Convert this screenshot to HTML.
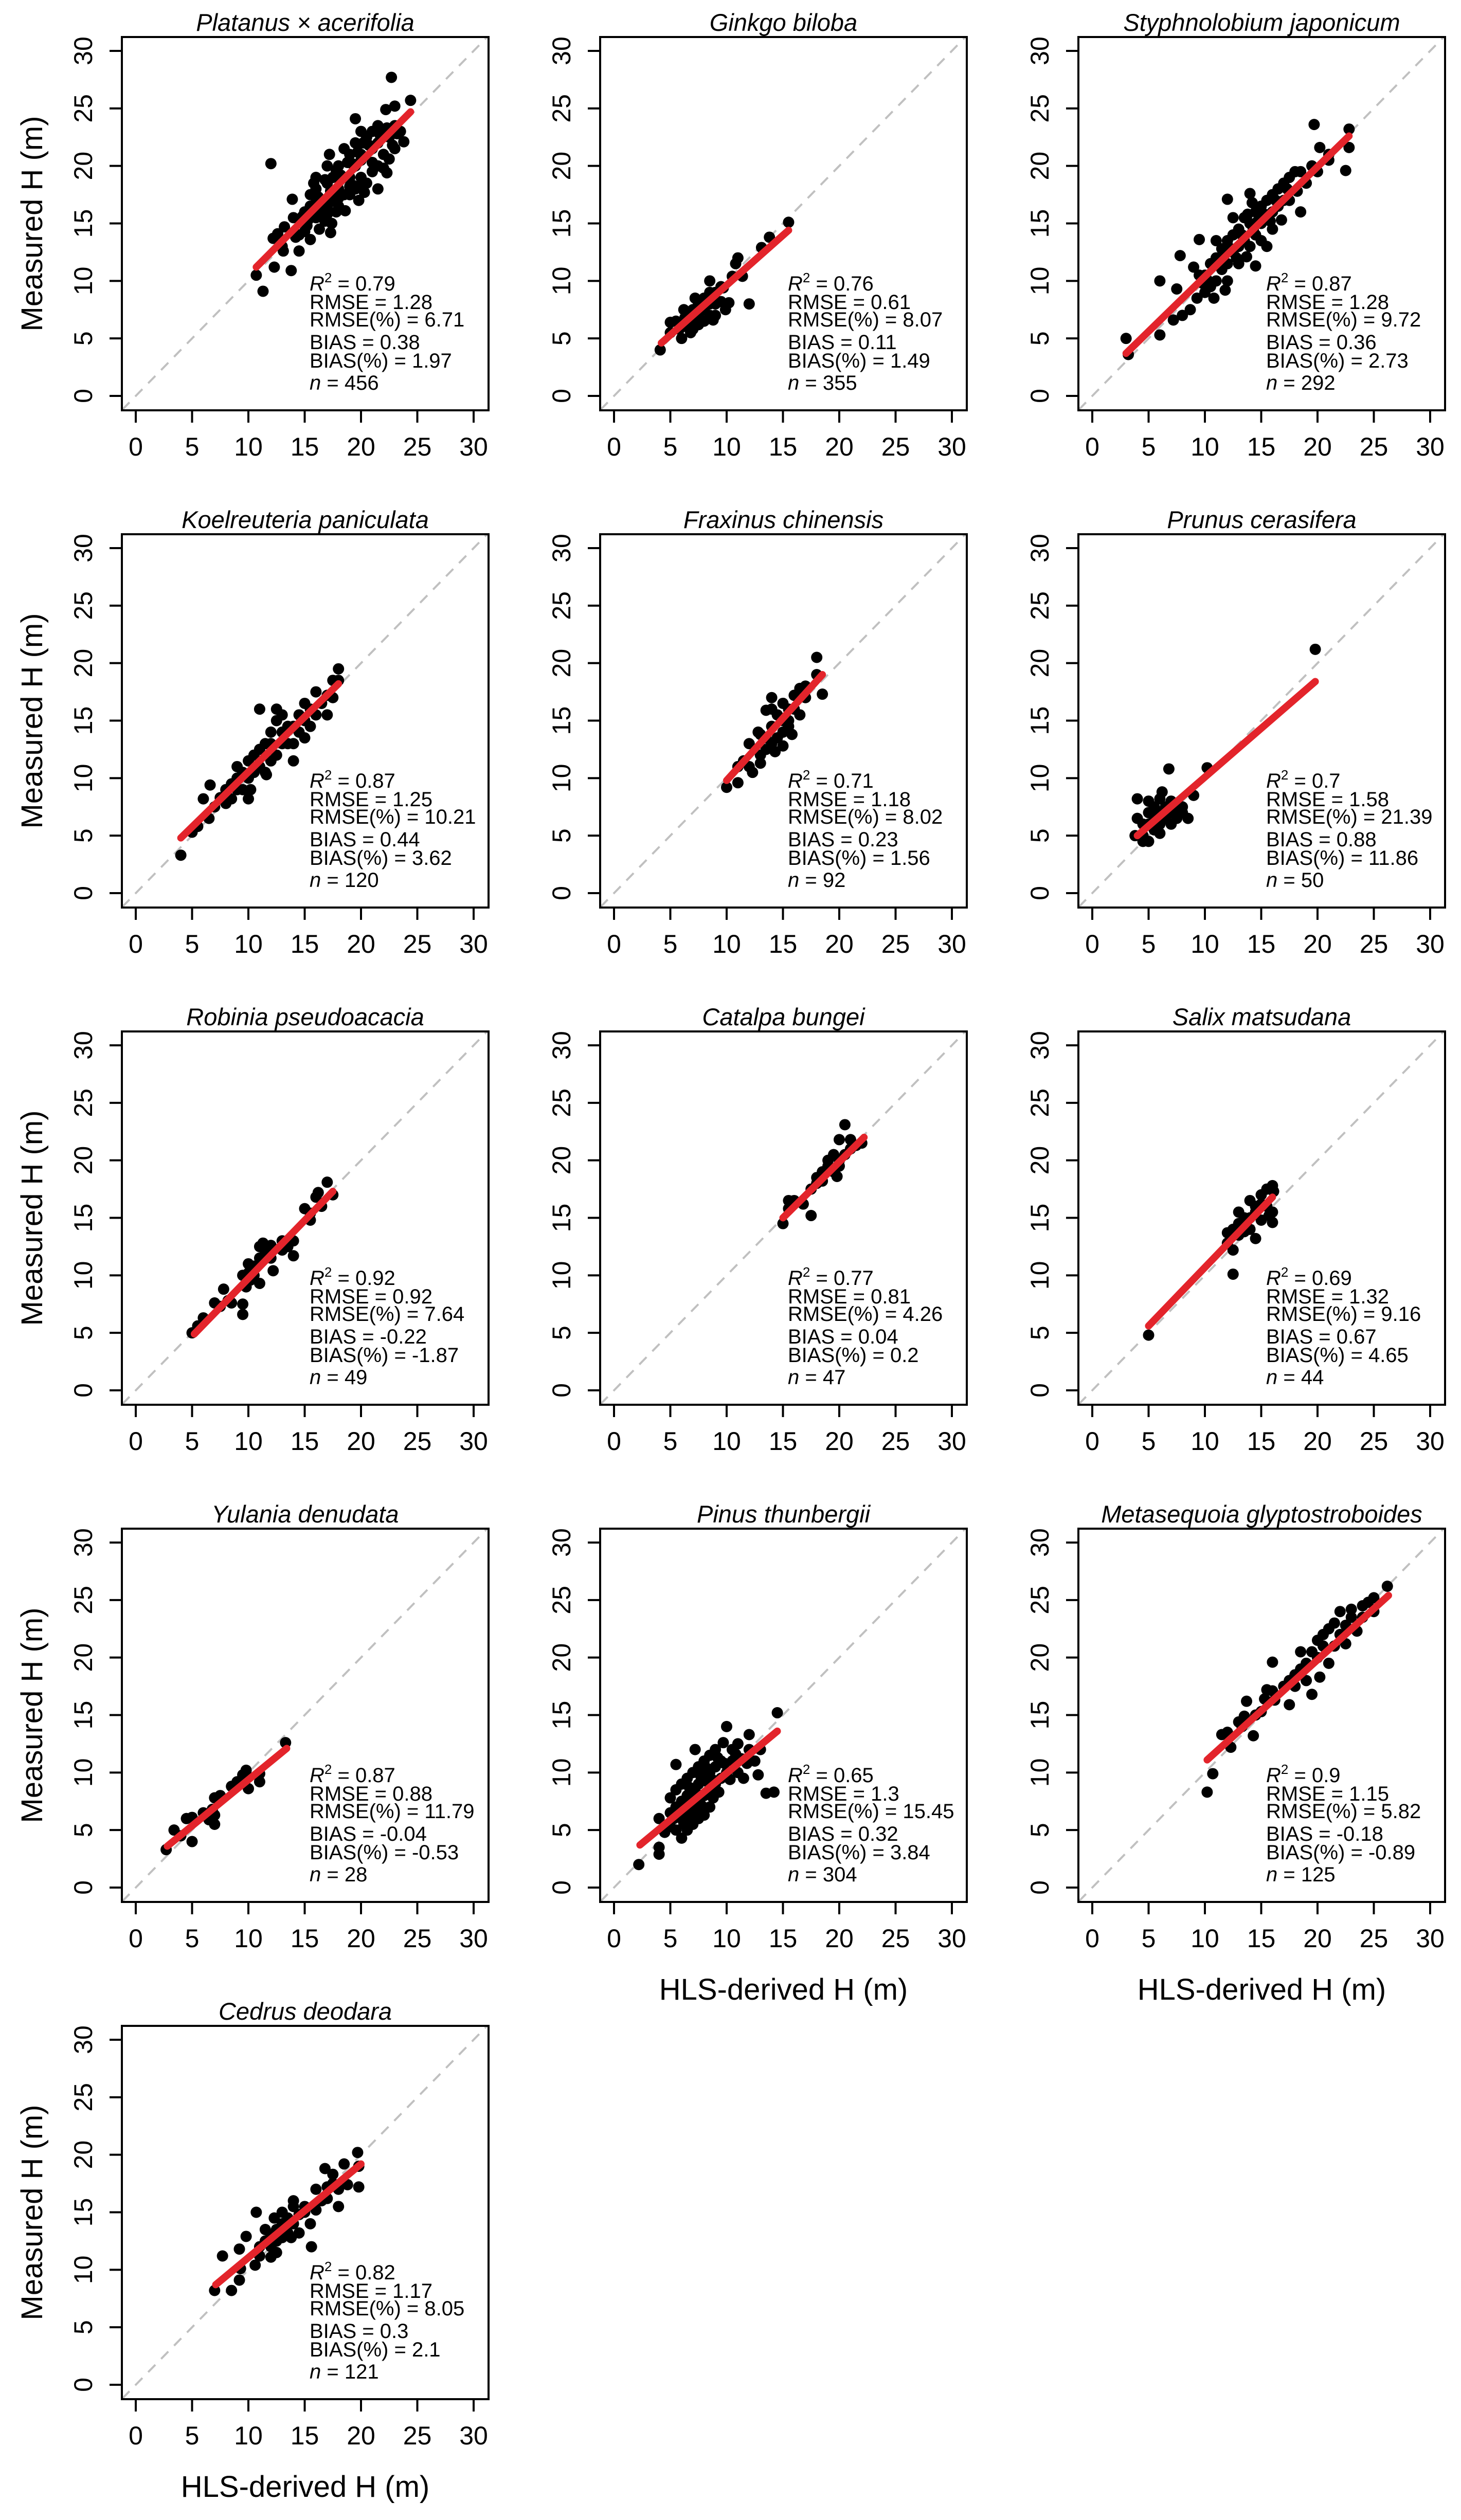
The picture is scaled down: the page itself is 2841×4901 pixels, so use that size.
<!DOCTYPE html>
<html><head><meta charset="utf-8"><style>
html,body{margin:0;padding:0;background:#fff}
svg{display:block;font-family:"Liberation Sans",Arial,sans-serif}
</style></head><body>
<svg id="fig" xmlns="http://www.w3.org/2000/svg" width="2841" height="4901" viewBox="0 0 2841 4901"></svg>
<script>
const species=["Platanus \u00d7 acerifolia","Ginkgo biloba","Styphnolobium japonicum","Koelreuteria paniculata","Fraxinus chinensis","Prunus cerasifera","Robinia pseudoacacia","Catalpa bungei","Salix matsudana","Yulania denudata","Pinus thunbergii","Metasequoia glyptostroboides","Cedrus deodara"];
const r2=["0.79","0.76","0.87","0.87","0.71","0.7","0.92","0.77","0.69","0.87","0.65","0.9","0.82"];
const rmse=["1.28","0.61","1.28","1.25","1.18","1.58","0.92","0.81","1.32","0.88","1.3","1.15","1.17"];
const rmsePct=["6.71","8.07","9.72","10.21","8.02","21.39","7.64","4.26","9.16","11.79","15.45","5.82","8.05"];
const bias=["0.38","0.11","0.36","0.44","0.23","0.88","-0.22","0.04","0.67","-0.04","0.32","-0.18","0.3"];
const biasPct=["1.97","1.49","2.73","3.62","1.56","11.86","-1.87","0.2","4.65","-0.53","3.84","-0.89","2.1"];
const nObs=["456","355","292","120","92","50","49","47","44","28","304","125","121"];
const fitLines=[[10.7,11.2,24.4,24.7],[4.2,4.6,15.5,14.4],[3,3.7,22.8,22.6],[4,4.8,18,18.2],[10,9.8,18.5,19],[4,5,19.8,18.4],[5.2,4.9,17.5,17.3],[15,15,22.2,22],[5,5.6,16,16.8],[2.8,3.6,13.4,12.1],[2.3,3.7,14.5,13.6],[10.2,11.1,26.3,25.4],[7.1,8.7,20,19.2]];
const ticks=[0,5,10,15,20,25,30];
const pts1=[[12,20.2],[10.7,10.5],[11.3,9.1],[12.3,11.2],[13.8,10.9],[12.2,13.7],[12.6,14.1],[13.1,12.6],[13,13],[14.5,12.6],[13.9,17.1],[22.7,27.7],[23,25.2],[24.4,25.7],[19.5,24.1],[22.2,24.9],[21.5,23.5],[23.8,22.1],[22.3,19.4],[22.5,20.6],[17.4,15],[17.3,14.2],[18.6,16.1],[17.2,21],[15.5,13.6],[14,15.5],[13.2,14.7],[15,14.3],[15,16],[15.5,17.5],[16,15.5],[16,18],[16.5,17],[16.5,16],[17,18.5],[17,16.5],[17.5,19],[17.5,17],[18,18],[18,20],[18,16.5],[18.5,19],[18.5,17.5],[19,21],[19,19],[19,17.5],[19.5,20],[19.5,22],[19.5,18],[20,21],[20,19],[20,20.5],[20.5,22.5],[20.5,18.5],[21,21.5],[21,19.5],[21,23],[21.5,22],[21.5,20],[22,23],[22,21],[22.5,22.5],[23,23.5],[23,21.5],[23.5,23],[16,19],[15.8,18.5],[17,20],[18.5,21.5],[20,23],[16.8,15.2],[17.8,16],[19.8,17],[21.5,18],[22.8,21.8],[20.3,17.7],[19.3,18.3],[14.8,15.6],[15.2,14.8],[16.3,14.5],[15.5,16.5],[16.2,17.3],[17.3,17.8],[18.2,19.2],[18.8,20.3],[19.7,21.2],[20.7,21.8],[21.7,22.7],[22.3,23.3],[16.8,18.8],[17.8,19.6],[19.2,20.2],[20.2,22],[14.5,14],[16,16.8],[17,15.8],[18,17.2],[19,18.2],[20,18.4],[21,20.3],[22,19.8],[23.2,22.8],[14.2,13.8],[15.3,15.3]];
const pts2=[[4.1,4],[15.5,15.1],[13.8,13.8],[13.1,12.9],[11,12],[10.8,11.5],[11.4,10.4],[12,8],[10.2,8.1],[9.9,7.5],[9.7,9.4],[10.5,10.4],[6,5],[5,5.5],[5,6.4],[5.5,6.5],[6,6],[6.5,7],[6.5,6],[7,7.5],[7,6.5],[7,5.8],[7.5,8],[7.5,7],[7.5,6.2],[8,8.5],[8,7.5],[8,6.5],[8.5,9],[8.5,8],[8.5,7],[8.5,10],[9,9],[9,8],[9,7],[9.5,9.5],[9.5,8.2],[6.2,7.5],[7.2,8.5],[8.8,6.6],[6.8,5.5],[6.3,6.8],[7.3,7.3],[8.2,8.2],[5.8,5.8]];
const pts3=[[3,5],[3.2,3.6],[6,5.3],[6,10],[7.8,12.2],[7.5,9.3],[9.5,13.6],[9,11.2],[12,17.1],[14,17.6],[18,19.5],[19.7,23.6],[22.8,23.2],[20.2,21.6],[22.8,21.6],[22.5,19.6],[21,20.5],[18.5,16],[16,14.5],[15.5,13],[14.5,11.3],[7.2,6.6],[8,7],[8.7,7.5],[9.3,8.5],[10,9],[10,10.5],[10.5,11.5],[10.5,9.5],[11,12],[11,10],[11.5,12.8],[11.5,11],[12,13.5],[12,11.5],[12,10],[12.5,14],[12.5,12.5],[13,14.5],[13,13],[13,11.5],[13.5,15.5],[13.5,13.5],[14,15],[14,13],[14.5,16],[14.5,14],[15,16.5],[15,15],[15,13.5],[15.5,17],[16,17.5],[16,16],[16.5,18],[16.5,16.5],[17,18.5],[17,17],[17.5,19],[17.5,17],[18.2,17.8],[18.5,19.5],[19,18.5],[19.5,20],[20,19.5],[21,21],[11,13.5],[12.5,15.5],[9.5,10.5],[10.8,8.5],[13.7,12.1],[16.8,15.3],[14.2,16.8],[11.8,9.2],[10.3,10],[11.3,11.5],[12.3,12.8],[13.3,14],[14.3,14.5],[15.3,15.8],[16.3,17],[17.3,18],[9.8,9.8],[12.8,12],[13.8,15.8],[15.8,15.2],[11.6,12.3],[14.7,15.2]];
const pts4=[[4,3.3],[5,5.3],[5.5,5.8],[6,8.2],[6.6,9.4],[6.5,6.5],[7,7.5],[7.5,8.3],[8,7.8],[8,9],[8.5,8.2],[8.5,9.5],[9,9],[9,10],[9,11],[9.5,10.5],[9.5,9],[10,8.2],[10,11.5],[10,10],[10.5,12],[10.5,10.5],[11,12.5],[11,11],[11,16],[11.5,13],[11.5,10.5],[12,14],[12,13],[12,11.5],[12.5,15],[12.5,16],[12.5,12],[13,14],[13,13],[13,15.5],[13.5,14.5],[13.5,13],[14,11.5],[14,14.5],[14,13],[14.5,15.5],[14.5,14],[15,16.5],[15,15],[15,13.5],[15.5,16],[15.5,14.5],[16,17.5],[16,15.5],[16.5,16.5],[17,17.2],[17,15.5],[17.5,18.5],[17.5,17],[18,19.5],[18,18.5],[10.2,9],[11.6,10.3]];
const pts5=[[10,9.2],[11,11],[11,9.6],[11.5,11.5],[12,13],[12,11],[12.3,10.5],[13,12],[12.8,14],[13,11.3],[13,13.8],[13.5,13.5],[13.5,12.5],[13.5,15.9],[14,14.5],[14,16],[14,17],[14,13],[14.5,15.5],[14.5,13.5],[15,16.5],[15,15],[15,14],[15,12.8],[15.5,15],[15.5,16],[15.5,14.5],[16,16],[16,17.2],[16.5,17.8],[16.5,15.5],[17,18],[17,17],[18,20.5],[18,19],[18.5,17.3],[14.3,12.3],[15.8,13.8]];
const pts6=[[3.8,5],[4,8.2],[4,6.5],[4.5,6],[4.5,5],[5,4.5],[5,6],[5,7],[5,8],[5.5,5.5],[5.5,7.5],[5.5,6.5],[6,8.2],[6,7],[6,6],[6,5.2],[6.5,7.5],[6.5,6.5],[6.8,10.8],[7,7],[7,8],[7,6],[7.5,7.2],[7.5,6.5],[8,7.5],[8,7],[8.5,6.5],[9,8.5],[10.2,10.9],[19.8,21.2],[4.5,4.5],[6.2,8.8]];
const pts7=[[5,5],[5.5,5.6],[6,6.3],[7,7.6],[7.5,7.3],[7.8,8.8],[8.2,7.8],[8.5,7.6],[9.5,7.5],[9.5,6.6],[9.8,9],[9.5,10],[10,11],[10,10.2],[10.5,10],[10.5,10.8],[11,9.3],[11,11.5],[11,12.5],[11.5,12],[12,11.5],[12,12.6],[12.2,10.4],[13,12.2],[13,13],[13.5,12.5],[14,13],[14,11.7],[15,15.8],[15.5,14.8],[15.5,15.4],[16,16.8],[16.5,16],[17,18.1],[17.5,17],[16.2,17.2],[11.3,12.8],[10.2,9.6]];
const pts8=[[15,14.5],[15.5,15.8],[15.5,16.5],[16,16.5],[16.8,16.2],[17.5,15.2],[17.5,17.5],[18,18],[18,18.5],[18.5,19],[18.5,18.2],[19,19.5],[19,20],[19.5,20.5],[19.5,19],[20,20],[20,21.8],[20,19.5],[20.5,23.1],[20.5,20.5],[21,21],[21,21.8],[21.5,21.3],[22,21.5],[19.8,18.6]];
const pts9=[[5,4.8],[12.5,10.1],[12,13.7],[12,12.8],[12.5,14],[12.5,12.2],[13,15.5],[13,13.5],[13,14.5],[13.5,15],[13.5,13.8],[14,16.5],[14,15],[14,14],[14.5,16],[14.5,15.5],[14.5,13.2],[15,17],[15,16.2],[15,14.8],[15.5,17.5],[15.5,16],[16,17.8],[16,15.5],[16,14.6],[15.7,15.2],[16.1,17.3]];
const pts10=[[2.7,3.3],[3.4,5],[4,4.5],[4.5,6],[5,4],[5,6.1],[6,6.5],[6.5,5.9],[7,6.3],[7,5.5],[7,7.8],[7.5,8],[8.5,8.8],[9,9.2],[9.5,9.8],[9.8,10.2],[10,9.6],[10,8.6],[11,9.2],[11,9.9],[13.3,12.6],[6.8,6.8]];
const pts11=[[2.2,2],[4,3.5],[4,2.9],[4,6],[4.5,4.8],[5,5.3],[5,6.5],[5,7.8],[5.5,5],[5.5,7],[5.5,8.5],[5.5,10.7],[6,4.3],[6,6],[6,7.5],[6,9],[6.5,5],[6.5,6.5],[6.5,8],[6.5,9.5],[7,5.5],[7,7],[7,8.5],[7,10],[7.2,12],[7.5,6],[7.5,7.5],[7.5,9],[7.5,10.5],[8,6.3],[8,8],[8,9.5],[8,11],[8.5,7],[8.5,8.5],[8.5,10],[8.5,11.5],[9,9],[9,10.5],[9,12],[9.5,9.5],[9.5,11],[10,10],[10,14],[10.5,11],[10.5,12],[11,10],[11,12.5],[11.5,9.5],[12,12],[12,13.3],[12.5,11],[13,12],[13.5,8.2],[14.2,8.3],[14.5,15.2],[12.8,9.8],[11.8,10.8],[5.8,6.2],[6.3,7.2],[6.8,6.1],[7.3,8.2],[7.8,7.1],[8.3,9.2],[8.8,7.8],[9.3,8.3],[9.8,10.8],[10.3,9.4],[6.2,5.5],[7.7,9.7],[8.2,10.4],[9.2,11.3],[6.7,8.7],[7.3,6.6],[8.7,9.4],[10.8,11.6],[11.3,11.2],[5.3,6.0],[9.7,12.6]];
const pts12=[[10.2,8.3],[10.7,9.9],[11.5,13.3],[12,13.5],[12.3,12.2],[13,14.4],[13.3,14],[13.5,14.9],[13.7,16.2],[14.3,13.2],[14.5,15],[15,15.3],[15.3,16.4],[15.5,17.2],[16,17.1],[16.2,16.3],[16,19.6],[17,17.5],[17.5,18],[17.5,15.9],[18,18.5],[18.5,19],[18.5,20.5],[19,18],[19,19.5],[19.5,20.5],[19.5,16.8],[20,20],[20,21.5],[20.5,21],[20.5,22],[21,22.5],[21,19.5],[21.5,21],[21.5,23],[22,22],[22,24],[22.5,22.8],[22.5,21.2],[23,23.5],[23,24.2],[23.5,22.3],[24,24.5],[24,23.5],[24.5,24.8],[25,24],[25,25.2],[26.2,26.2],[20.2,18.3],[18,17.5]];
const pts13=[[7,8.2],[7.7,11.2],[8.5,8.2],[9.2,9.1],[9.3,10.1],[9.2,11.8],[9.8,12.9],[10.7,15],[10.6,10.4],[11,12],[11,11.2],[11.5,13.5],[11.5,12.5],[12,11.1],[12,12],[12,13],[12.3,14.5],[12.5,12.5],[12.5,13.5],[13,12.8],[13,14],[13,15],[13.5,13.2],[13.5,14.5],[14,14],[14,15.5],[14,16],[14.5,13.2],[14.5,14.8],[15,15],[15,15.5],[15.5,14],[15.6,12],[16,15.2],[16,17],[16.5,16],[16.8,18.8],[17,17.2],[17,16.2],[17.5,17.5],[17.5,18.3],[18,15.5],[18,17],[18.5,19.2],[18.8,17.4],[19.7,20.2],[19.8,17.2],[19.8,19],[12.5,11.5],[13.8,12.8]];
const allPts=[pts1,pts2,pts3,pts4,pts5,pts6,pts7,pts8,pts9,pts10,pts11,pts12,pts13];

const NS="http://www.w3.org/2000/svg";
const svg=document.getElementById('fig');
function mk(tag,attrs,parent){const e=document.createElementNS(NS,tag);for(const k in attrs)e.setAttribute(k,attrs[k]);parent.appendChild(e);return e;}
const BW=713,BH=726;
species.forEach((sp,i)=>{
  const c=i%3,r=Math.floor(i/3);
  const L=237+930*c,T=72+967*r;
  const sx=v=>L+27+v*(657/30);
  const sy=v=>T+698-v*(671/30);
  const g=mk('g',{},svg);
  
  
  const title=mk('text',{x:L+BW/2,y:T-12,'text-anchor':'middle','font-size':47,'font-style':'italic'},g);
  title.textContent=sp;
  
  
  const d=mk('line',{x1:sx(-1.2),y1:sy(-1.2),x2:sx(31.2),y2:sy(31.2),stroke:'#c0c0c0','stroke-width':4,'stroke-dasharray':'20 16'},g);
  
  
  allPts[i].forEach(p=>{
    const pt=mk('circle',{cx:sx(p[0]),cy:sy(p[1]),r:11,fill:'#000'},g);
    
    
  });
  const f=fitLines[i];
  const fl=mk('line',{x1:sx(f[0]),y1:sy(f[1]),x2:sx(f[2]),y2:sy(f[3]),stroke:'#e3242b','stroke-width':14,'stroke-linecap':'round'},g);
  
  
  const box=mk('rect',{x:L,y:T,width:BW,height:BH,fill:'none',stroke:'#000','stroke-width':4},g);
  
  
  ticks.forEach(t=>{
    mk('line',{x1:sx(t),y1:T+BH,x2:sx(t),y2:T+BH+24,stroke:'#000','stroke-width':4},g);
    const xl=mk('text',{x:sx(t),y:T+BH+88,'text-anchor':'middle','font-size':50},g);
    xl.textContent=t;
    
    
    mk('line',{x1:L-24,y1:sy(t),x2:L,y2:sy(t),stroke:'#000','stroke-width':4},g);
    const yl=mk('text',{x:0,y:0,'text-anchor':'middle','font-size':50,transform:`translate(${L-58},${sy(t)}) rotate(-90)`},g);
    yl.textContent=t;
    
    
  });
  const st=mk('text',{x:L+365,y:0,'font-size':40},g);
  
  
  const lines=[
    `<tspan x="${L+365}" y="${T+493}" font-style="italic">R</tspan><tspan dy="-16" font-size="26">2</tspan><tspan dy="16"> = ${r2[i]}</tspan>`,
    `<tspan x="${L+365}" y="${T+529}">RMSE = ${rmse[i]}</tspan>`,
    `<tspan x="${L+365}" y="${T+563}">RMSE(%) = ${rmsePct[i]}</tspan>`,
    `<tspan x="${L+365}" y="${T+607}">BIAS = ${bias[i]}</tspan>`,
    `<tspan x="${L+365}" y="${T+643}">BIAS(%) = ${biasPct[i]}</tspan>`,
    `<tspan x="${L+365}" y="${T+686}" font-style="italic">n</tspan><tspan> = ${nObs[i]}</tspan>`];
  st.innerHTML=lines.join('');
  if(c===0){
    const ya=mk('text',{x:0,y:0,'text-anchor':'middle','font-size':58,transform:`translate(${L-155},${T+BH/2}) rotate(-90)`},g);
    ya.textContent='Measured H (m)';
    
    
  }
  if(i>=10){
    const xa=mk('text',{x:L+BW/2,y:T+BH+190,'text-anchor':'middle','font-size':58},g);
    xa.textContent='HLS-derived H (m)';
    
    
  }
});
</script>
</body></html>
